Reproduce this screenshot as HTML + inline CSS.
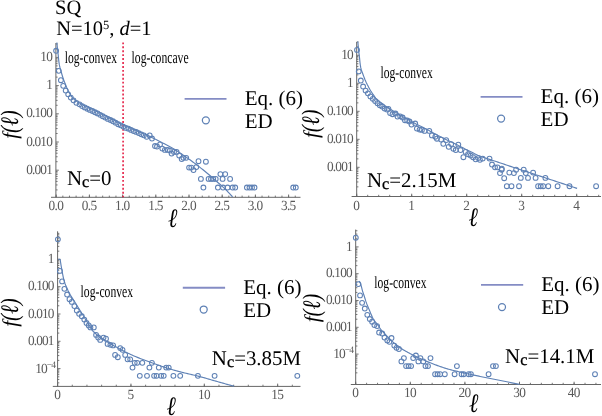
<!DOCTYPE html>
<html lang="en"><head><meta charset="utf-8"><title>f(ℓ) distributions</title>
<style>html,body{margin:0;padding:0;background:#fff;}svg{display:block;will-change:transform;}text{font-family:'Liberation Serif','Times New Roman',serif;text-rendering:geometricPrecision;}</style>
</head><body>
<svg width="602" height="416" viewBox="0 0 602 416">
<rect x="0" y="0" width="602" height="416" fill="#ffffff"/>
<g stroke="#666666" stroke-width="1.0" fill="none">
<line x1="55.9" y1="43" x2="55.9" y2="197.3"/>
<line x1="51" y1="197.3" x2="300.5" y2="197.3"/>
</g>
<g stroke="#666666" stroke-width="0.9">
<line x1="56.2" y1="197.3" x2="56.2" y2="194.5"/>
<line x1="89.4" y1="197.3" x2="89.4" y2="194.5"/>
<line x1="122.6" y1="197.3" x2="122.6" y2="194.5"/>
<line x1="155.8" y1="197.3" x2="155.8" y2="194.5"/>
<line x1="189" y1="197.3" x2="189" y2="194.5"/>
<line x1="222.2" y1="197.3" x2="222.2" y2="194.5"/>
<line x1="255.4" y1="197.3" x2="255.4" y2="194.5"/>
<line x1="288.6" y1="197.3" x2="288.6" y2="194.5"/>
<line x1="56.2" y1="197.3" x2="56.2" y2="195.6"/>
<line x1="62.84" y1="197.3" x2="62.84" y2="195.6"/>
<line x1="69.48" y1="197.3" x2="69.48" y2="195.6"/>
<line x1="76.12" y1="197.3" x2="76.12" y2="195.6"/>
<line x1="82.76" y1="197.3" x2="82.76" y2="195.6"/>
<line x1="89.4" y1="197.3" x2="89.4" y2="195.6"/>
<line x1="96.04" y1="197.3" x2="96.04" y2="195.6"/>
<line x1="102.68" y1="197.3" x2="102.68" y2="195.6"/>
<line x1="109.32" y1="197.3" x2="109.32" y2="195.6"/>
<line x1="115.96" y1="197.3" x2="115.96" y2="195.6"/>
<line x1="122.6" y1="197.3" x2="122.6" y2="195.6"/>
<line x1="129.24" y1="197.3" x2="129.24" y2="195.6"/>
<line x1="135.88" y1="197.3" x2="135.88" y2="195.6"/>
<line x1="142.52" y1="197.3" x2="142.52" y2="195.6"/>
<line x1="149.16" y1="197.3" x2="149.16" y2="195.6"/>
<line x1="155.8" y1="197.3" x2="155.8" y2="195.6"/>
<line x1="162.44" y1="197.3" x2="162.44" y2="195.6"/>
<line x1="169.08" y1="197.3" x2="169.08" y2="195.6"/>
<line x1="175.72" y1="197.3" x2="175.72" y2="195.6"/>
<line x1="182.36" y1="197.3" x2="182.36" y2="195.6"/>
<line x1="189" y1="197.3" x2="189" y2="195.6"/>
<line x1="195.64" y1="197.3" x2="195.64" y2="195.6"/>
<line x1="202.28" y1="197.3" x2="202.28" y2="195.6"/>
<line x1="208.92" y1="197.3" x2="208.92" y2="195.6"/>
<line x1="215.56" y1="197.3" x2="215.56" y2="195.6"/>
<line x1="222.2" y1="197.3" x2="222.2" y2="195.6"/>
<line x1="228.84" y1="197.3" x2="228.84" y2="195.6"/>
<line x1="235.48" y1="197.3" x2="235.48" y2="195.6"/>
<line x1="242.12" y1="197.3" x2="242.12" y2="195.6"/>
<line x1="248.76" y1="197.3" x2="248.76" y2="195.6"/>
<line x1="255.4" y1="197.3" x2="255.4" y2="195.6"/>
<line x1="262.04" y1="197.3" x2="262.04" y2="195.6"/>
<line x1="268.68" y1="197.3" x2="268.68" y2="195.6"/>
<line x1="275.32" y1="197.3" x2="275.32" y2="195.6"/>
<line x1="281.96" y1="197.3" x2="281.96" y2="195.6"/>
<line x1="288.6" y1="197.3" x2="288.6" y2="195.6"/>
<line x1="295.24" y1="197.3" x2="295.24" y2="195.6"/>
<line x1="55.9" y1="57.4" x2="58.8" y2="57.4"/>
<line x1="55.9" y1="85.6" x2="58.8" y2="85.6"/>
<line x1="55.9" y1="113.8" x2="58.8" y2="113.8"/>
<line x1="55.9" y1="142" x2="58.8" y2="142"/>
<line x1="55.9" y1="170.2" x2="58.8" y2="170.2"/>
<line x1="55.9" y1="189.91" x2="57.6" y2="189.91"/>
<line x1="55.9" y1="184.95" x2="57.6" y2="184.95"/>
<line x1="55.9" y1="181.42" x2="57.6" y2="181.42"/>
<line x1="55.9" y1="178.69" x2="57.6" y2="178.69"/>
<line x1="55.9" y1="176.46" x2="57.6" y2="176.46"/>
<line x1="55.9" y1="174.57" x2="57.6" y2="174.57"/>
<line x1="55.9" y1="172.93" x2="57.6" y2="172.93"/>
<line x1="55.9" y1="171.49" x2="57.6" y2="171.49"/>
<line x1="55.9" y1="161.71" x2="57.6" y2="161.71"/>
<line x1="55.9" y1="156.75" x2="57.6" y2="156.75"/>
<line x1="55.9" y1="153.22" x2="57.6" y2="153.22"/>
<line x1="55.9" y1="150.49" x2="57.6" y2="150.49"/>
<line x1="55.9" y1="148.26" x2="57.6" y2="148.26"/>
<line x1="55.9" y1="146.37" x2="57.6" y2="146.37"/>
<line x1="55.9" y1="144.73" x2="57.6" y2="144.73"/>
<line x1="55.9" y1="143.29" x2="57.6" y2="143.29"/>
<line x1="55.9" y1="133.51" x2="57.6" y2="133.51"/>
<line x1="55.9" y1="128.55" x2="57.6" y2="128.55"/>
<line x1="55.9" y1="125.02" x2="57.6" y2="125.02"/>
<line x1="55.9" y1="122.29" x2="57.6" y2="122.29"/>
<line x1="55.9" y1="120.06" x2="57.6" y2="120.06"/>
<line x1="55.9" y1="118.17" x2="57.6" y2="118.17"/>
<line x1="55.9" y1="116.53" x2="57.6" y2="116.53"/>
<line x1="55.9" y1="115.09" x2="57.6" y2="115.09"/>
<line x1="55.9" y1="105.31" x2="57.6" y2="105.31"/>
<line x1="55.9" y1="100.35" x2="57.6" y2="100.35"/>
<line x1="55.9" y1="96.82" x2="57.6" y2="96.82"/>
<line x1="55.9" y1="94.09" x2="57.6" y2="94.09"/>
<line x1="55.9" y1="91.86" x2="57.6" y2="91.86"/>
<line x1="55.9" y1="89.97" x2="57.6" y2="89.97"/>
<line x1="55.9" y1="88.33" x2="57.6" y2="88.33"/>
<line x1="55.9" y1="86.89" x2="57.6" y2="86.89"/>
<line x1="55.9" y1="77.11" x2="57.6" y2="77.11"/>
<line x1="55.9" y1="72.15" x2="57.6" y2="72.15"/>
<line x1="55.9" y1="68.62" x2="57.6" y2="68.62"/>
<line x1="55.9" y1="65.89" x2="57.6" y2="65.89"/>
<line x1="55.9" y1="63.66" x2="57.6" y2="63.66"/>
<line x1="55.9" y1="61.77" x2="57.6" y2="61.77"/>
<line x1="55.9" y1="60.13" x2="57.6" y2="60.13"/>
<line x1="55.9" y1="58.69" x2="57.6" y2="58.69"/>
<line x1="55.9" y1="48.91" x2="57.6" y2="48.91"/>
<line x1="55.9" y1="43.95" x2="57.6" y2="43.95"/>
</g>
<text transform="translate(55.87 210.4) scale(0.95 1)" font-size="14.0" letter-spacing="-0.7" text-anchor="middle" fill="#5a5a5a">0.0</text>
<text transform="translate(89.07 210.4) scale(0.95 1)" font-size="14.0" letter-spacing="-0.7" text-anchor="middle" fill="#5a5a5a">0.5</text>
<text transform="translate(122.27 210.4) scale(0.95 1)" font-size="14.0" letter-spacing="-0.7" text-anchor="middle" fill="#5a5a5a">1.0</text>
<text transform="translate(155.47 210.4) scale(0.95 1)" font-size="14.0" letter-spacing="-0.7" text-anchor="middle" fill="#5a5a5a">1.5</text>
<text transform="translate(188.67 210.4) scale(0.95 1)" font-size="14.0" letter-spacing="-0.7" text-anchor="middle" fill="#5a5a5a">2.0</text>
<text transform="translate(221.87 210.4) scale(0.95 1)" font-size="14.0" letter-spacing="-0.7" text-anchor="middle" fill="#5a5a5a">2.5</text>
<text transform="translate(255.07 210.4) scale(0.95 1)" font-size="14.0" letter-spacing="-0.7" text-anchor="middle" fill="#5a5a5a">3.0</text>
<text transform="translate(288.27 210.4) scale(0.95 1)" font-size="14.0" letter-spacing="-0.7" text-anchor="middle" fill="#5a5a5a">3.5</text>
<text transform="translate(51.95 61) scale(0.95 1)" font-size="14.0" letter-spacing="-0.9" text-anchor="end" fill="#5a5a5a">10</text>
<text transform="translate(51.95 89.2) scale(0.95 1)" font-size="14.0" letter-spacing="-0.9" text-anchor="end" fill="#5a5a5a">1</text>
<text transform="translate(51.95 117.4) scale(0.95 1)" font-size="14.0" letter-spacing="-0.9" text-anchor="end" fill="#5a5a5a">0.100</text>
<text transform="translate(51.95 145.6) scale(0.95 1)" font-size="14.0" letter-spacing="-0.9" text-anchor="end" fill="#5a5a5a">0.010</text>
<text transform="translate(51.95 173.8) scale(0.95 1)" font-size="14.0" letter-spacing="-0.9" text-anchor="end" fill="#5a5a5a">0.001</text>
<line x1="123.1" y1="42.4" x2="123.1" y2="197.3" stroke="#e41f45" stroke-width="1.6" stroke-dasharray="1.9 2.03"/>
<g fill="none" stroke="#5E81B5" stroke-width="1.05">
<circle cx="56.1" cy="50.8" r="2.4"/>
<circle cx="58.7" cy="70.8" r="2.4"/>
<circle cx="60.9" cy="80.2" r="2.4"/>
<circle cx="63.2" cy="85.8" r="2.4"/>
<circle cx="65.7" cy="90.6" r="2.4"/>
<circle cx="68.2" cy="94.3" r="2.4"/>
<circle cx="70.8" cy="97.6" r="2.4"/>
<circle cx="73.5" cy="100.3" r="2.4"/>
<circle cx="76.4" cy="102.8" r="2.4"/>
<circle cx="79.57" cy="104.33" r="2.4"/>
<circle cx="82.14" cy="106.06" r="2.4"/>
<circle cx="84.71" cy="107.39" r="2.4"/>
<circle cx="87.29" cy="108.7" r="2.4"/>
<circle cx="89.86" cy="109.92" r="2.4"/>
<circle cx="92.44" cy="110.95" r="2.4"/>
<circle cx="95.01" cy="112.2" r="2.4"/>
<circle cx="97.58" cy="113.41" r="2.4"/>
<circle cx="100.16" cy="114.83" r="2.4"/>
<circle cx="102.73" cy="116.22" r="2.4"/>
<circle cx="105.31" cy="117.56" r="2.4"/>
<circle cx="107.88" cy="118.88" r="2.4"/>
<circle cx="110.45" cy="120.04" r="2.4"/>
<circle cx="113.03" cy="121.27" r="2.4"/>
<circle cx="115.6" cy="122.69" r="2.4"/>
<circle cx="118.18" cy="124.21" r="2.4"/>
<circle cx="120.75" cy="125.3" r="2.4"/>
<circle cx="123.32" cy="126.6" r="2.4"/>
<circle cx="125.9" cy="127.89" r="2.4"/>
<circle cx="128.47" cy="128.7" r="2.4"/>
<circle cx="131.05" cy="129.92" r="2.4"/>
<circle cx="133.62" cy="131.07" r="2.4"/>
<circle cx="136.19" cy="131.91" r="2.4"/>
<circle cx="138.77" cy="133.11" r="2.4"/>
<circle cx="141.34" cy="134.36" r="2.4"/>
<circle cx="143.92" cy="135.3" r="2.4"/>
<circle cx="146.7" cy="136.8" r="2.4"/>
<circle cx="149.7" cy="135.4" r="2.4"/>
<circle cx="152" cy="138.5" r="2.4"/>
<circle cx="155" cy="146" r="2.4"/>
<circle cx="157" cy="146.5" r="2.4"/>
<circle cx="160" cy="144.4" r="2.4"/>
<circle cx="162.3" cy="148.6" r="2.4"/>
<circle cx="164.9" cy="149.9" r="2.4"/>
<circle cx="167.7" cy="149.9" r="2.4"/>
<circle cx="169.9" cy="150.6" r="2.4"/>
<circle cx="171.6" cy="153.6" r="2.4"/>
<circle cx="174" cy="151.9" r="2.4"/>
<circle cx="176.6" cy="151.9" r="2.4"/>
<circle cx="179.2" cy="155.6" r="2.4"/>
<circle cx="181.7" cy="159" r="2.4"/>
<circle cx="183.4" cy="157.8" r="2.4"/>
<circle cx="186.2" cy="157.8" r="2.4"/>
<circle cx="189.1" cy="167.6" r="2.4"/>
<circle cx="191.3" cy="167.6" r="2.4"/>
<circle cx="193.5" cy="170.1" r="2.4"/>
<circle cx="196.3" cy="167.1" r="2.4"/>
<circle cx="198.5" cy="161.2" r="2.4"/>
<circle cx="200.9" cy="178.9" r="2.4"/>
<circle cx="203.4" cy="187.5" r="2.4"/>
<circle cx="205.9" cy="161.7" r="2.4"/>
<circle cx="208.6" cy="178.9" r="2.4"/>
<circle cx="211" cy="178.9" r="2.4"/>
<circle cx="213.2" cy="178.9" r="2.4"/>
<circle cx="215.7" cy="178.9" r="2.4"/>
<circle cx="217.9" cy="187.5" r="2.4"/>
<circle cx="220.4" cy="174.1" r="2.4"/>
<circle cx="222.6" cy="178.9" r="2.4"/>
<circle cx="225.2" cy="174.1" r="2.4"/>
<circle cx="223" cy="187.5" r="2.4"/>
<circle cx="227.6" cy="187.5" r="2.4"/>
<circle cx="230.1" cy="178.9" r="2.4"/>
<circle cx="232.6" cy="187.5" r="2.4"/>
<circle cx="235.2" cy="187.5" r="2.4"/>
<circle cx="246.9" cy="187.5" r="2.4"/>
<circle cx="249.5" cy="187.5" r="2.4"/>
<circle cx="252" cy="187.5" r="2.4"/>
<circle cx="254.5" cy="187.5" r="2.4"/>
<circle cx="293.2" cy="187.5" r="2.4"/>
<circle cx="295.8" cy="187.5" r="2.4"/>
</g>
<path d="M56.9,42.5 L57.03,44.05 L57.16,45.61 L57.31,47.16 L57.47,48.71 L57.63,50.26 L57.81,51.81 L58,53.36 L58.19,54.9 L58.36,56.46 L58.51,58.01 L58.66,59.57 L58.82,61.12 L59.01,62.66 L59.23,64.2 L59.53,65.72 L59.9,67.24 L60.32,68.74 L60.75,70.25 L61.17,71.75 L61.59,73.25 L62.02,74.75 L62.47,76.25 L62.94,77.73 L63.44,79.21 L63.98,80.67 L64.54,82.13 L65.12,83.57 L65.71,85.02 L66.3,86.46 L66.91,87.9 L67.55,89.32 L68.21,90.73 L68.91,92.13 L69.63,93.55 L70.39,94.93 L71.23,96.22 L72.18,97.38 L73.26,98.49 L74.44,99.53 L75.7,100.52 L76.98,101.45 L78.27,102.31 L79.6,103.1 L80.97,103.84 L82.38,104.54 L83.8,105.21 L85.2,105.89 L86.62,106.54 L88.05,107.16 L89.48,107.78 L90.91,108.41 L92.33,109.05 L93.74,109.71 L95.13,110.41 L96.52,111.12 L97.9,111.85 L99.28,112.58 L100.66,113.31 L102.04,114.02 L103.43,114.72 L104.83,115.42 L106.22,116.12 L107.62,116.81 L109.02,117.51 L110.41,118.21 L111.8,118.92 L113.18,119.63 L114.57,120.35 L115.95,121.07 L117.34,121.79 L118.72,122.5 L120.11,123.21 L121.51,123.9 L122.91,124.57 L124.33,125.23 L125.75,125.87 L127.17,126.49 L128.61,127.11 L130.04,127.72 L131.48,128.32 L132.92,128.93 L134.36,129.53 L135.79,130.14 L137.22,130.77 L138.64,131.4 L140.07,132.04 L141.49,132.68 L142.91,133.32 L144.33,133.97 L145.74,134.63 L147.15,135.29 L148.57,135.95 L149.97,136.62 L151.38,137.29 L152.78,137.97 L154.18,138.66 L155.58,139.35 L156.97,140.05 L158.36,140.76 L159.75,141.47 L161.14,142.18 L162.53,142.89 L163.91,143.6 L165.3,144.31 L166.7,145.01 L168.09,145.71 L169.47,146.44 L170.82,147.2 L172.17,147.98 L173.5,148.78 L174.83,149.59 L176.15,150.42 L177.47,151.27 L178.78,152.12 L180.08,152.98 L181.38,153.85 L182.67,154.73 L183.96,155.61 L185.24,156.5 L186.52,157.39 L187.79,158.28 L189.06,159.19 L190.33,160.09 L191.59,161.01 L192.84,161.94 L194.1,162.87 L195.34,163.81 L196.59,164.75 L197.82,165.7 L199.06,166.66 L200.28,167.62 L201.51,168.59 L202.73,169.56 L203.94,170.53 L205.15,171.52 L206.35,172.51 L207.54,173.51 L208.73,174.52 L209.91,175.54 L211.09,176.56 L212.26,177.59 L213.44,178.62 L214.61,179.65 L215.78,180.67 L216.96,181.7 L218.14,182.72 L219.31,183.75 L220.48,184.78 L221.64,185.82 L222.79,186.87 L223.93,187.94 L225.05,189.02 L226.16,190.11 L227.26,191.21 L228.35,192.33 L229.43,193.46 L230.49,194.59 L231.55,195.74 L232.6,196.9" fill="none" stroke="#5E81B5" stroke-width="1.15" stroke-linejoin="round" stroke-linecap="butt"/>
<text x="55" y="14" font-size="20.5" text-anchor="start" fill="#000" >SQ</text>
<text x="56.2" y="35.3" font-size="20.5" fill="#000">N=10<tspan font-size="12.5" dy="-6.2">5</tspan><tspan dy="6.2">, </tspan><tspan font-style="italic">d</tspan>=1</text>
<text x="64.8" y="62.6" font-size="17" text-anchor="start" fill="#000" textLength="52.2" lengthAdjust="spacingAndGlyphs" >log-convex</text>
<text x="131.6" y="62.6" font-size="17" text-anchor="start" fill="#000" textLength="57" lengthAdjust="spacingAndGlyphs" >log-concave</text>
<text x="66.9" y="185" font-size="20.9" fill="#000">N<tspan font-size="16.3" dy="2.4" stroke="#000" stroke-width="0.3">c</tspan><tspan dy="-2.4">=0</tspan></text>
<line x1="184.6" y1="98.95" x2="226.5" y2="98.95" stroke="#848cc4" stroke-width="1.8"/>
<circle cx="205.85" cy="120.3" r="3.5" fill="none" stroke="#5E81B5" stroke-width="1.25"/>
<text x="244.8" y="104.8" font-size="21" text-anchor="start" fill="#000" >Eq. (6)</text>
<text x="244.8" y="128.1" font-size="21" text-anchor="start" fill="#000" >ED</text>
<g transform="translate(18 124.5) rotate(-90)" font-size="21" font-style="italic" fill="#000">
<text x="-14.3" y="-1.2">f</text>
<text transform="translate(-8.46 0) scale(1 1.2)">(ℓ)</text>
</g>
<text transform="translate(172.6 227.2) scale(0.85 1)" font-size="26.5" font-style="italic" text-anchor="middle" fill="#000">ℓ</text>
<g stroke="#666666" stroke-width="1.0" fill="none">
<line x1="356.7" y1="42" x2="356.7" y2="196.5"/>
<line x1="351.6" y1="196.5" x2="601" y2="196.5"/>
</g>
<g stroke="#666666" stroke-width="0.9">
<line x1="356.7" y1="196.5" x2="356.7" y2="193.7"/>
<line x1="411.7" y1="196.5" x2="411.7" y2="193.7"/>
<line x1="466.7" y1="196.5" x2="466.7" y2="193.7"/>
<line x1="521.7" y1="196.5" x2="521.7" y2="193.7"/>
<line x1="576.7" y1="196.5" x2="576.7" y2="193.7"/>
<line x1="356.7" y1="196.5" x2="356.7" y2="194.8"/>
<line x1="367.7" y1="196.5" x2="367.7" y2="194.8"/>
<line x1="378.7" y1="196.5" x2="378.7" y2="194.8"/>
<line x1="389.7" y1="196.5" x2="389.7" y2="194.8"/>
<line x1="400.7" y1="196.5" x2="400.7" y2="194.8"/>
<line x1="411.7" y1="196.5" x2="411.7" y2="194.8"/>
<line x1="422.7" y1="196.5" x2="422.7" y2="194.8"/>
<line x1="433.7" y1="196.5" x2="433.7" y2="194.8"/>
<line x1="444.7" y1="196.5" x2="444.7" y2="194.8"/>
<line x1="455.7" y1="196.5" x2="455.7" y2="194.8"/>
<line x1="466.7" y1="196.5" x2="466.7" y2="194.8"/>
<line x1="477.7" y1="196.5" x2="477.7" y2="194.8"/>
<line x1="488.7" y1="196.5" x2="488.7" y2="194.8"/>
<line x1="499.7" y1="196.5" x2="499.7" y2="194.8"/>
<line x1="510.7" y1="196.5" x2="510.7" y2="194.8"/>
<line x1="521.7" y1="196.5" x2="521.7" y2="194.8"/>
<line x1="532.7" y1="196.5" x2="532.7" y2="194.8"/>
<line x1="543.7" y1="196.5" x2="543.7" y2="194.8"/>
<line x1="554.7" y1="196.5" x2="554.7" y2="194.8"/>
<line x1="565.7" y1="196.5" x2="565.7" y2="194.8"/>
<line x1="576.7" y1="196.5" x2="576.7" y2="194.8"/>
<line x1="587.7" y1="196.5" x2="587.7" y2="194.8"/>
<line x1="598.7" y1="196.5" x2="598.7" y2="194.8"/>
<line x1="356.7" y1="55.3" x2="359.6" y2="55.3"/>
<line x1="356.7" y1="83.3" x2="359.6" y2="83.3"/>
<line x1="356.7" y1="111.3" x2="359.6" y2="111.3"/>
<line x1="356.7" y1="139.3" x2="359.6" y2="139.3"/>
<line x1="356.7" y1="167.3" x2="359.6" y2="167.3"/>
<line x1="356.7" y1="186.87" x2="358.4" y2="186.87"/>
<line x1="356.7" y1="181.94" x2="358.4" y2="181.94"/>
<line x1="356.7" y1="178.44" x2="358.4" y2="178.44"/>
<line x1="356.7" y1="175.73" x2="358.4" y2="175.73"/>
<line x1="356.7" y1="173.51" x2="358.4" y2="173.51"/>
<line x1="356.7" y1="171.64" x2="358.4" y2="171.64"/>
<line x1="356.7" y1="170.01" x2="358.4" y2="170.01"/>
<line x1="356.7" y1="168.58" x2="358.4" y2="168.58"/>
<line x1="356.7" y1="158.87" x2="358.4" y2="158.87"/>
<line x1="356.7" y1="153.94" x2="358.4" y2="153.94"/>
<line x1="356.7" y1="150.44" x2="358.4" y2="150.44"/>
<line x1="356.7" y1="147.73" x2="358.4" y2="147.73"/>
<line x1="356.7" y1="145.51" x2="358.4" y2="145.51"/>
<line x1="356.7" y1="143.64" x2="358.4" y2="143.64"/>
<line x1="356.7" y1="142.01" x2="358.4" y2="142.01"/>
<line x1="356.7" y1="140.58" x2="358.4" y2="140.58"/>
<line x1="356.7" y1="130.87" x2="358.4" y2="130.87"/>
<line x1="356.7" y1="125.94" x2="358.4" y2="125.94"/>
<line x1="356.7" y1="122.44" x2="358.4" y2="122.44"/>
<line x1="356.7" y1="119.73" x2="358.4" y2="119.73"/>
<line x1="356.7" y1="117.51" x2="358.4" y2="117.51"/>
<line x1="356.7" y1="115.64" x2="358.4" y2="115.64"/>
<line x1="356.7" y1="114.01" x2="358.4" y2="114.01"/>
<line x1="356.7" y1="112.58" x2="358.4" y2="112.58"/>
<line x1="356.7" y1="102.87" x2="358.4" y2="102.87"/>
<line x1="356.7" y1="97.94" x2="358.4" y2="97.94"/>
<line x1="356.7" y1="94.44" x2="358.4" y2="94.44"/>
<line x1="356.7" y1="91.73" x2="358.4" y2="91.73"/>
<line x1="356.7" y1="89.51" x2="358.4" y2="89.51"/>
<line x1="356.7" y1="87.64" x2="358.4" y2="87.64"/>
<line x1="356.7" y1="86.01" x2="358.4" y2="86.01"/>
<line x1="356.7" y1="84.58" x2="358.4" y2="84.58"/>
<line x1="356.7" y1="74.87" x2="358.4" y2="74.87"/>
<line x1="356.7" y1="69.94" x2="358.4" y2="69.94"/>
<line x1="356.7" y1="66.44" x2="358.4" y2="66.44"/>
<line x1="356.7" y1="63.73" x2="358.4" y2="63.73"/>
<line x1="356.7" y1="61.51" x2="358.4" y2="61.51"/>
<line x1="356.7" y1="59.64" x2="358.4" y2="59.64"/>
<line x1="356.7" y1="58.01" x2="358.4" y2="58.01"/>
<line x1="356.7" y1="56.58" x2="358.4" y2="56.58"/>
<line x1="356.7" y1="46.87" x2="358.4" y2="46.87"/>
<line x1="356.7" y1="41.94" x2="358.4" y2="41.94"/>
</g>
<text transform="translate(356.37 209.6) scale(0.95 1)" font-size="14.0" letter-spacing="-0.7" text-anchor="middle" fill="#5a5a5a">0</text>
<text transform="translate(411.37 209.6) scale(0.95 1)" font-size="14.0" letter-spacing="-0.7" text-anchor="middle" fill="#5a5a5a">1</text>
<text transform="translate(466.37 209.6) scale(0.95 1)" font-size="14.0" letter-spacing="-0.7" text-anchor="middle" fill="#5a5a5a">2</text>
<text transform="translate(521.37 209.6) scale(0.95 1)" font-size="14.0" letter-spacing="-0.7" text-anchor="middle" fill="#5a5a5a">3</text>
<text transform="translate(576.37 209.6) scale(0.95 1)" font-size="14.0" letter-spacing="-0.7" text-anchor="middle" fill="#5a5a5a">4</text>
<text transform="translate(352.74 58.9) scale(0.95 1)" font-size="14.0" letter-spacing="-0.9" text-anchor="end" fill="#5a5a5a">10</text>
<text transform="translate(352.74 86.9) scale(0.95 1)" font-size="14.0" letter-spacing="-0.9" text-anchor="end" fill="#5a5a5a">1</text>
<text transform="translate(352.74 114.9) scale(0.95 1)" font-size="14.0" letter-spacing="-0.9" text-anchor="end" fill="#5a5a5a">0.100</text>
<text transform="translate(352.74 142.9) scale(0.95 1)" font-size="14.0" letter-spacing="-0.9" text-anchor="end" fill="#5a5a5a">0.010</text>
<text transform="translate(352.74 170.9) scale(0.95 1)" font-size="14.0" letter-spacing="-0.9" text-anchor="end" fill="#5a5a5a">0.001</text>
<g fill="none" stroke="#5E81B5" stroke-width="1.05">
<circle cx="357" cy="49.9" r="2.4"/>
<circle cx="358.75" cy="71.4" r="2.4"/>
<circle cx="360.8" cy="80.5" r="2.4"/>
<circle cx="363.1" cy="86.5" r="2.4"/>
<circle cx="365.6" cy="90.6" r="2.4"/>
<circle cx="367.9" cy="93.3" r="2.4"/>
<circle cx="370.4" cy="96.4" r="2.4"/>
<circle cx="372.8" cy="98.8" r="2.4"/>
<circle cx="375.1" cy="101.1" r="2.4"/>
<circle cx="377.5" cy="103.2" r="2.4"/>
<circle cx="379.8" cy="105.2" r="2.4"/>
<circle cx="382.2" cy="106.5" r="2.4"/>
<circle cx="384.6" cy="108.5" r="2.4"/>
<circle cx="387" cy="109.6" r="2.4"/>
<circle cx="388.4" cy="108.8" r="2.4"/>
<circle cx="390.1" cy="113.1" r="2.4"/>
<circle cx="392.5" cy="114.2" r="2.4"/>
<circle cx="395.5" cy="113.5" r="2.4"/>
<circle cx="397.5" cy="116.5" r="2.4"/>
<circle cx="400.2" cy="116.3" r="2.4"/>
<circle cx="402.6" cy="117.5" r="2.4"/>
<circle cx="404.9" cy="120.2" r="2.4"/>
<circle cx="407.2" cy="120.5" r="2.4"/>
<circle cx="409.5" cy="121.5" r="2.4"/>
<circle cx="411.5" cy="124.5" r="2.4"/>
<circle cx="415.2" cy="123.5" r="2.4"/>
<circle cx="416.9" cy="128.6" r="2.4"/>
<circle cx="419.6" cy="129.6" r="2.4"/>
<circle cx="421.9" cy="129.9" r="2.4"/>
<circle cx="424.6" cy="130.9" r="2.4"/>
<circle cx="429.3" cy="130.9" r="2.4"/>
<circle cx="431.9" cy="135.4" r="2.4"/>
<circle cx="435.3" cy="136.7" r="2.4"/>
<circle cx="436.9" cy="138.7" r="2.4"/>
<circle cx="441.1" cy="139.6" r="2.4"/>
<circle cx="443.3" cy="143.8" r="2.4"/>
<circle cx="446.2" cy="140.1" r="2.4"/>
<circle cx="448.7" cy="146.8" r="2.4"/>
<circle cx="451.2" cy="144.1" r="2.4"/>
<circle cx="453.4" cy="148.8" r="2.4"/>
<circle cx="455.8" cy="150" r="2.4"/>
<circle cx="458.3" cy="144.6" r="2.4"/>
<circle cx="460.5" cy="150" r="2.4"/>
<circle cx="463.4" cy="157.2" r="2.4"/>
<circle cx="465.6" cy="151.9" r="2.4"/>
<circle cx="468.1" cy="154.2" r="2.4"/>
<circle cx="470.6" cy="155.6" r="2.4"/>
<circle cx="473.1" cy="157.2" r="2.4"/>
<circle cx="475.7" cy="159.3" r="2.4"/>
<circle cx="478.2" cy="158.1" r="2.4"/>
<circle cx="479.9" cy="159.8" r="2.4"/>
<circle cx="482.7" cy="158.6" r="2.4"/>
<circle cx="489.5" cy="158.6" r="2.4"/>
<circle cx="492" cy="164.5" r="2.4"/>
<circle cx="495" cy="167.3" r="2.4"/>
<circle cx="497.5" cy="167.3" r="2.4"/>
<circle cx="501.8" cy="168.7" r="2.4"/>
<circle cx="501.7" cy="169.7" r="2.4"/>
<circle cx="500" cy="173.1" r="2.4"/>
<circle cx="504.2" cy="178.2" r="2.4"/>
<circle cx="506.8" cy="186.2" r="2.4"/>
<circle cx="509.3" cy="172.6" r="2.4"/>
<circle cx="511.5" cy="186.2" r="2.4"/>
<circle cx="513.9" cy="173.1" r="2.4"/>
<circle cx="516.1" cy="169.7" r="2.4"/>
<circle cx="519" cy="186.2" r="2.4"/>
<circle cx="520.8" cy="177.9" r="2.4"/>
<circle cx="523.7" cy="169.7" r="2.4"/>
<circle cx="525.8" cy="173.1" r="2.4"/>
<circle cx="528" cy="177.9" r="2.4"/>
<circle cx="533.1" cy="172.6" r="2.4"/>
<circle cx="535.6" cy="177.9" r="2.4"/>
<circle cx="538.1" cy="186.2" r="2.4"/>
<circle cx="540.7" cy="186.2" r="2.4"/>
<circle cx="543.2" cy="186.2" r="2.4"/>
<circle cx="545.4" cy="177.9" r="2.4"/>
<circle cx="548.3" cy="186.2" r="2.4"/>
<circle cx="557.6" cy="186.2" r="2.4"/>
<circle cx="569.5" cy="186.2" r="2.4"/>
<circle cx="596.1" cy="186.2" r="2.4"/>
</g>
<path d="M357.85,41.5 L357.98,43.27 L358.12,45.04 L358.28,46.81 L358.45,48.58 L358.63,50.35 L358.82,52.11 L359.04,53.87 L359.26,55.64 L359.47,57.4 L359.66,59.17 L359.84,60.95 L360.02,62.72 L360.23,64.48 L360.49,66.23 L360.82,67.95 L361.29,69.66 L361.87,71.35 L362.49,73.03 L363.1,74.7 L363.71,76.37 L364.35,78.03 L365.01,79.68 L365.71,81.31 L366.45,82.92 L367.23,84.52 L368.05,86.1 L368.9,87.66 L369.77,89.2 L370.68,90.72 L371.63,92.23 L372.6,93.72 L373.59,95.19 L374.61,96.66 L375.71,98.04 L376.95,99.29 L378.27,100.48 L379.65,101.61 L381.06,102.72 L382.47,103.81 L383.89,104.87 L385.33,105.91 L386.8,106.92 L388.28,107.9 L389.78,108.85 L391.3,109.76 L392.84,110.64 L394.38,111.53 L395.91,112.43 L397.43,113.36 L398.94,114.3 L400.44,115.24 L401.95,116.18 L403.47,117.09 L405.01,117.98 L406.55,118.85 L408.11,119.72 L409.67,120.57 L411.23,121.41 L412.8,122.24 L414.37,123.07 L415.94,123.89 L417.53,124.7 L419.12,125.49 L420.71,126.28 L422.3,127.07 L423.88,127.87 L425.47,128.68 L427.04,129.5 L428.6,130.34 L430.16,131.19 L431.72,132.04 L433.28,132.9 L434.84,133.75 L436.4,134.6 L437.96,135.44 L439.54,136.26 L441.12,137.07 L442.71,137.86 L444.3,138.64 L445.9,139.41 L447.5,140.18 L449.11,140.94 L450.71,141.71 L452.31,142.48 L453.91,143.26 L455.5,144.05 L457.08,144.85 L458.66,145.65 L460.24,146.47 L461.82,147.28 L463.4,148.09 L464.99,148.9 L466.57,149.69 L468.16,150.48 L469.76,151.27 L471.35,152.07 L472.94,152.86 L474.54,153.65 L476.14,154.42 L477.75,155.16 L479.38,155.86 L481.02,156.52 L482.68,157.14 L484.35,157.73 L486.03,158.29 L487.73,158.83 L489.43,159.37 L491.12,159.9 L492.82,160.45 L494.5,161 L496.19,161.57 L497.87,162.13 L499.56,162.7 L501.24,163.26 L502.92,163.83 L504.61,164.4 L506.29,164.96 L507.97,165.52 L509.66,166.09 L511.34,166.65 L513.03,167.21 L514.71,167.76 L516.4,168.32 L518.09,168.88 L519.77,169.43 L521.46,169.99 L523.15,170.54 L524.84,171.1 L526.52,171.65 L528.21,172.21 L529.9,172.77 L531.58,173.32 L533.27,173.88 L534.96,174.43 L536.64,174.99 L538.33,175.55 L540.02,176.1 L541.7,176.66 L543.39,177.22 L545.07,177.77 L546.76,178.33 L548.45,178.89 L550.13,179.44 L551.82,180 L553.51,180.56 L555.19,181.12 L556.88,181.68 L558.56,182.24 L560.25,182.8 L561.93,183.36 L563.62,183.92 L565.3,184.47 L566.99,185.03 L568.67,185.6 L570.36,186.16 L572.05,186.72 L573.73,187.28 L575.42,187.84 L577.1,188.4" fill="none" stroke="#5E81B5" stroke-width="1.15" stroke-linejoin="round" stroke-linecap="butt"/>
<text x="380.5" y="77.9" font-size="17" text-anchor="start" fill="#000" textLength="52.3" lengthAdjust="spacingAndGlyphs" >log-convex</text>
<text x="367" y="187" font-size="20.9" fill="#000">N<tspan font-size="16.3" dy="2.4" stroke="#000" stroke-width="0.3">c</tspan><tspan dy="-2.4">=2.15M</tspan></text>
<line x1="480.6" y1="96.95" x2="522.5" y2="96.95" stroke="#848cc4" stroke-width="1.8"/>
<circle cx="501.1" cy="118.6" r="3.5" fill="none" stroke="#5E81B5" stroke-width="1.25"/>
<text x="540.6" y="102.8" font-size="21" text-anchor="start" fill="#000" >Eq. (6)</text>
<text x="540.6" y="126.1" font-size="21" text-anchor="start" fill="#000" >ED</text>
<g transform="translate(318.8 123.8) rotate(-90)" font-size="21" font-style="italic" fill="#000">
<text x="-14.3" y="-1.2">f</text>
<text transform="translate(-8.46 0) scale(1 1.2)">(ℓ)</text>
</g>
<text transform="translate(473.3 225.7) scale(0.85 1)" font-size="26.5" font-style="italic" text-anchor="middle" fill="#000">ℓ</text>
<g stroke="#666666" stroke-width="1.0" fill="none">
<line x1="57.6" y1="231.3" x2="57.6" y2="386.4"/>
<line x1="52.8" y1="386.4" x2="300.5" y2="386.4"/>
</g>
<g stroke="#666666" stroke-width="0.9">
<line x1="57.6" y1="386.4" x2="57.6" y2="383.6"/>
<line x1="130.95" y1="386.4" x2="130.95" y2="383.6"/>
<line x1="204.3" y1="386.4" x2="204.3" y2="383.6"/>
<line x1="277.65" y1="386.4" x2="277.65" y2="383.6"/>
<line x1="57.6" y1="386.4" x2="57.6" y2="384.7"/>
<line x1="72.27" y1="386.4" x2="72.27" y2="384.7"/>
<line x1="86.94" y1="386.4" x2="86.94" y2="384.7"/>
<line x1="101.61" y1="386.4" x2="101.61" y2="384.7"/>
<line x1="116.28" y1="386.4" x2="116.28" y2="384.7"/>
<line x1="130.95" y1="386.4" x2="130.95" y2="384.7"/>
<line x1="145.62" y1="386.4" x2="145.62" y2="384.7"/>
<line x1="160.29" y1="386.4" x2="160.29" y2="384.7"/>
<line x1="174.96" y1="386.4" x2="174.96" y2="384.7"/>
<line x1="189.63" y1="386.4" x2="189.63" y2="384.7"/>
<line x1="204.3" y1="386.4" x2="204.3" y2="384.7"/>
<line x1="218.97" y1="386.4" x2="218.97" y2="384.7"/>
<line x1="233.64" y1="386.4" x2="233.64" y2="384.7"/>
<line x1="248.31" y1="386.4" x2="248.31" y2="384.7"/>
<line x1="262.98" y1="386.4" x2="262.98" y2="384.7"/>
<line x1="277.65" y1="386.4" x2="277.65" y2="384.7"/>
<line x1="292.32" y1="386.4" x2="292.32" y2="384.7"/>
<line x1="57.6" y1="259.4" x2="60.5" y2="259.4"/>
<line x1="57.6" y1="286.7" x2="60.5" y2="286.7"/>
<line x1="57.6" y1="314" x2="60.5" y2="314"/>
<line x1="57.6" y1="341.3" x2="60.5" y2="341.3"/>
<line x1="57.6" y1="368.6" x2="60.5" y2="368.6"/>
<line x1="57.6" y1="382.87" x2="59.3" y2="382.87"/>
<line x1="57.6" y1="379.46" x2="59.3" y2="379.46"/>
<line x1="57.6" y1="376.82" x2="59.3" y2="376.82"/>
<line x1="57.6" y1="374.66" x2="59.3" y2="374.66"/>
<line x1="57.6" y1="372.83" x2="59.3" y2="372.83"/>
<line x1="57.6" y1="371.25" x2="59.3" y2="371.25"/>
<line x1="57.6" y1="369.85" x2="59.3" y2="369.85"/>
<line x1="57.6" y1="360.38" x2="59.3" y2="360.38"/>
<line x1="57.6" y1="355.57" x2="59.3" y2="355.57"/>
<line x1="57.6" y1="352.16" x2="59.3" y2="352.16"/>
<line x1="57.6" y1="349.52" x2="59.3" y2="349.52"/>
<line x1="57.6" y1="347.36" x2="59.3" y2="347.36"/>
<line x1="57.6" y1="345.53" x2="59.3" y2="345.53"/>
<line x1="57.6" y1="343.95" x2="59.3" y2="343.95"/>
<line x1="57.6" y1="342.55" x2="59.3" y2="342.55"/>
<line x1="57.6" y1="333.08" x2="59.3" y2="333.08"/>
<line x1="57.6" y1="328.27" x2="59.3" y2="328.27"/>
<line x1="57.6" y1="324.86" x2="59.3" y2="324.86"/>
<line x1="57.6" y1="322.22" x2="59.3" y2="322.22"/>
<line x1="57.6" y1="320.06" x2="59.3" y2="320.06"/>
<line x1="57.6" y1="318.23" x2="59.3" y2="318.23"/>
<line x1="57.6" y1="316.65" x2="59.3" y2="316.65"/>
<line x1="57.6" y1="315.25" x2="59.3" y2="315.25"/>
<line x1="57.6" y1="305.78" x2="59.3" y2="305.78"/>
<line x1="57.6" y1="300.97" x2="59.3" y2="300.97"/>
<line x1="57.6" y1="297.56" x2="59.3" y2="297.56"/>
<line x1="57.6" y1="294.92" x2="59.3" y2="294.92"/>
<line x1="57.6" y1="292.76" x2="59.3" y2="292.76"/>
<line x1="57.6" y1="290.93" x2="59.3" y2="290.93"/>
<line x1="57.6" y1="289.35" x2="59.3" y2="289.35"/>
<line x1="57.6" y1="287.95" x2="59.3" y2="287.95"/>
<line x1="57.6" y1="278.48" x2="59.3" y2="278.48"/>
<line x1="57.6" y1="273.67" x2="59.3" y2="273.67"/>
<line x1="57.6" y1="270.26" x2="59.3" y2="270.26"/>
<line x1="57.6" y1="267.62" x2="59.3" y2="267.62"/>
<line x1="57.6" y1="265.46" x2="59.3" y2="265.46"/>
<line x1="57.6" y1="263.63" x2="59.3" y2="263.63"/>
<line x1="57.6" y1="262.05" x2="59.3" y2="262.05"/>
<line x1="57.6" y1="260.65" x2="59.3" y2="260.65"/>
<line x1="57.6" y1="251.18" x2="59.3" y2="251.18"/>
<line x1="57.6" y1="246.37" x2="59.3" y2="246.37"/>
<line x1="57.6" y1="242.96" x2="59.3" y2="242.96"/>
<line x1="57.6" y1="240.32" x2="59.3" y2="240.32"/>
<line x1="57.6" y1="238.16" x2="59.3" y2="238.16"/>
<line x1="57.6" y1="236.33" x2="59.3" y2="236.33"/>
<line x1="57.6" y1="234.75" x2="59.3" y2="234.75"/>
<line x1="57.6" y1="233.35" x2="59.3" y2="233.35"/>
</g>
<text transform="translate(57.27 398.8) scale(0.95 1)" font-size="14.0" letter-spacing="-0.7" text-anchor="middle" fill="#5a5a5a">0</text>
<text transform="translate(130.62 398.8) scale(0.95 1)" font-size="14.0" letter-spacing="-0.7" text-anchor="middle" fill="#5a5a5a">5</text>
<text transform="translate(203.97 398.8) scale(0.95 1)" font-size="14.0" letter-spacing="-0.7" text-anchor="middle" fill="#5a5a5a">10</text>
<text transform="translate(277.32 398.8) scale(0.95 1)" font-size="14.0" letter-spacing="-0.7" text-anchor="middle" fill="#5a5a5a">15</text>
<text transform="translate(53.65 263) scale(0.95 1)" font-size="14.0" letter-spacing="-0.9" text-anchor="end" fill="#5a5a5a">1</text>
<text transform="translate(53.65 290.3) scale(0.95 1)" font-size="14.0" letter-spacing="-0.9" text-anchor="end" fill="#5a5a5a">0.100</text>
<text transform="translate(53.65 317.6) scale(0.95 1)" font-size="14.0" letter-spacing="-0.9" text-anchor="end" fill="#5a5a5a">0.010</text>
<text transform="translate(53.65 344.9) scale(0.95 1)" font-size="14.0" letter-spacing="-0.9" text-anchor="end" fill="#5a5a5a">0.001</text>
<text transform="translate(55 372.8) scale(0.96 1)" font-size="14.0" letter-spacing="-1.0" text-anchor="end" fill="#5a5a5a">10<tspan font-size="10" dy="-4.9">−4</tspan></text>
<g fill="none" stroke="#5E81B5" stroke-width="1.05">
<circle cx="57.9" cy="239.3" r="2.4"/>
<circle cx="59.9" cy="270.9" r="2.4"/>
<circle cx="62.1" cy="281.4" r="2.4"/>
<circle cx="64.4" cy="288.8" r="2.4"/>
<circle cx="67.1" cy="294.5" r="2.4"/>
<circle cx="69.5" cy="299.2" r="2.4"/>
<circle cx="71.8" cy="301.9" r="2.4"/>
<circle cx="74.4" cy="306.1" r="2.4"/>
<circle cx="76.8" cy="310.5" r="2.4"/>
<circle cx="79.1" cy="313.8" r="2.4"/>
<circle cx="81.8" cy="316.2" r="2.4"/>
<circle cx="84.3" cy="319.6" r="2.4"/>
<circle cx="86.5" cy="323" r="2.4"/>
<circle cx="88.7" cy="325.4" r="2.4"/>
<circle cx="90.4" cy="327.4" r="2.4"/>
<circle cx="93.8" cy="327.4" r="2.4"/>
<circle cx="96.1" cy="334.9" r="2.4"/>
<circle cx="98.2" cy="337.5" r="2.4"/>
<circle cx="100.2" cy="339.9" r="2.4"/>
<circle cx="103.5" cy="337.6" r="2.4"/>
<circle cx="106" cy="338.7" r="2.4"/>
<circle cx="107.6" cy="343.9" r="2.4"/>
<circle cx="110.4" cy="344.8" r="2.4"/>
<circle cx="113.1" cy="345.4" r="2.4"/>
<circle cx="115.1" cy="354.9" r="2.4"/>
<circle cx="117.8" cy="357.2" r="2.4"/>
<circle cx="120.2" cy="348.1" r="2.4"/>
<circle cx="122.5" cy="349.8" r="2.4"/>
<circle cx="125.2" cy="354.9" r="2.4"/>
<circle cx="127.6" cy="359.3" r="2.4"/>
<circle cx="130.2" cy="359.3" r="2.4"/>
<circle cx="132.5" cy="367.6" r="2.4"/>
<circle cx="134.7" cy="362.8" r="2.4"/>
<circle cx="137.2" cy="362.8" r="2.4"/>
<circle cx="139.8" cy="375.8" r="2.4"/>
<circle cx="142.3" cy="362.8" r="2.4"/>
<circle cx="147" cy="375.8" r="2.4"/>
<circle cx="149.4" cy="367.6" r="2.4"/>
<circle cx="151.9" cy="362.8" r="2.4"/>
<circle cx="154.1" cy="375.8" r="2.4"/>
<circle cx="156.6" cy="375.8" r="2.4"/>
<circle cx="158.8" cy="367.6" r="2.4"/>
<circle cx="161.1" cy="375.8" r="2.4"/>
<circle cx="163.7" cy="375.8" r="2.4"/>
<circle cx="166.2" cy="367.6" r="2.4"/>
<circle cx="168.7" cy="367.6" r="2.4"/>
<circle cx="173.4" cy="375.8" r="2.4"/>
<circle cx="180.2" cy="375.8" r="2.4"/>
<circle cx="197.9" cy="375.8" r="2.4"/>
<circle cx="214.6" cy="375.8" r="2.4"/>
<circle cx="297.3" cy="375.8" r="2.4"/>
</g>
<path d="M58.2,259.3 L60.2,259.3" stroke="#5E81B5" stroke-width="1.2" fill="none"/>
<path d="M60.2,259.3 L60.38,260.76 L60.58,262.21 L60.79,263.66 L61.02,265.1 L61.27,266.55 L61.54,267.99 L61.82,269.43 L62.09,270.87 L62.34,272.31 L62.58,273.76 L62.84,275.2 L63.13,276.63 L63.45,278.07 L63.79,279.5 L64.17,280.91 L64.59,282.31 L65.07,283.69 L65.61,285.06 L66.18,286.41 L66.77,287.76 L67.37,289.09 L67.99,290.42 L68.64,291.73 L69.32,293.04 L70.01,294.33 L70.73,295.6 L71.49,296.85 L72.28,298.09 L73.09,299.31 L73.89,300.54 L74.67,301.78 L75.44,303.03 L76.21,304.28 L76.97,305.53 L77.74,306.78 L78.51,308.02 L79.29,309.26 L80.07,310.5 L80.85,311.74 L81.62,312.99 L82.39,314.24 L83.15,315.49 L83.91,316.74 L84.66,318 L85.42,319.25 L86.19,320.5 L86.97,321.74 L87.76,322.98 L88.55,324.22 L89.31,325.47 L90.01,326.76 L90.67,328.08 L91.42,329.32 L92.32,330.45 L93.34,331.51 L94.42,332.52 L95.51,333.51 L96.61,334.49 L97.73,335.44 L98.87,336.36 L100.04,337.23 L101.25,338.06 L102.48,338.85 L103.73,339.62 L104.98,340.39 L106.23,341.16 L107.48,341.92 L108.73,342.68 L109.99,343.44 L111.25,344.18 L112.52,344.92 L113.79,345.66 L115.06,346.38 L116.34,347.1 L117.62,347.81 L118.9,348.51 L120.19,349.21 L121.49,349.9 L122.79,350.58 L124.09,351.24 L125.4,351.9 L126.72,352.55 L128.03,353.19 L129.36,353.82 L130.68,354.45 L132.02,355.06 L133.35,355.66 L134.7,356.24 L136.04,356.81 L137.4,357.36 L138.76,357.9 L140.13,358.43 L141.5,358.95 L142.88,359.46 L144.25,359.97 L145.62,360.48 L147,360.99 L148.37,361.51 L149.75,362.02 L151.12,362.52 L152.5,363.03 L153.87,363.53 L155.25,364.03 L156.63,364.52 L158.02,365.01 L159.4,365.49 L160.79,365.97 L162.17,366.43 L163.56,366.89 L164.96,367.34 L166.35,367.79 L167.75,368.23 L169.15,368.67 L170.55,369.1 L171.96,369.52 L173.36,369.94 L174.77,370.35 L176.18,370.75 L177.59,371.14 L179,371.53 L180.42,371.91 L181.83,372.28 L183.25,372.63 L184.68,372.98 L186.11,373.31 L187.53,373.64 L188.96,373.97 L190.39,374.3 L191.82,374.63 L193.25,374.96 L194.67,375.3 L196.1,375.64 L197.52,376 L198.94,376.37 L200.35,376.74 L201.77,377.13 L203.18,377.52 L204.59,377.92 L206,378.32 L207.41,378.73 L208.81,379.13 L210.22,379.54 L211.63,379.95 L213.04,380.36 L214.45,380.76 L215.86,381.16 L217.27,381.56 L218.68,381.95 L220.09,382.35 L221.5,382.75 L222.91,383.14 L224.32,383.54 L225.73,383.93 L227.14,384.33 L228.55,384.72 L229.97,385.12 L231.38,385.51 L232.79,385.91 L234.2,386.3" fill="none" stroke="#5E81B5" stroke-width="1.15" stroke-linejoin="round" stroke-linecap="butt"/>
<text x="80.6" y="296.9" font-size="17" text-anchor="start" fill="#000" textLength="52.5" lengthAdjust="spacingAndGlyphs" >log-convex</text>
<text x="211.8" y="364.8" font-size="20.9" fill="#000">N<tspan font-size="16.3" dy="2.4" stroke="#000" stroke-width="0.3">c</tspan><tspan dy="-2.4">=3.85M</tspan></text>
<line x1="182.8" y1="287.75" x2="225.1" y2="287.75" stroke="#848cc4" stroke-width="1.8"/>
<circle cx="203.7" cy="309.5" r="3.5" fill="none" stroke="#5E81B5" stroke-width="1.25"/>
<text x="243.3" y="293.7" font-size="21" text-anchor="start" fill="#000" >Eq. (6)</text>
<text x="243.3" y="316.9" font-size="21" text-anchor="start" fill="#000" >ED</text>
<g transform="translate(17.8 312.5) rotate(-90)" font-size="21" font-style="italic" fill="#000">
<text x="-14.3" y="-1.2">f</text>
<text transform="translate(-8.46 0) scale(1 1.2)">(ℓ)</text>
</g>
<text transform="translate(171.3 415) scale(0.85 1)" font-size="26.5" font-style="italic" text-anchor="middle" fill="#000">ℓ</text>
<g stroke="#666666" stroke-width="1.0" fill="none">
<line x1="355.7" y1="229.6" x2="355.7" y2="384.5"/>
<line x1="350.8" y1="384.5" x2="601" y2="384.5"/>
</g>
<g stroke="#666666" stroke-width="0.9">
<line x1="355.7" y1="384.5" x2="355.7" y2="381.7"/>
<line x1="410.3" y1="384.5" x2="410.3" y2="381.7"/>
<line x1="464.9" y1="384.5" x2="464.9" y2="381.7"/>
<line x1="519.5" y1="384.5" x2="519.5" y2="381.7"/>
<line x1="574.1" y1="384.5" x2="574.1" y2="381.7"/>
<line x1="355.7" y1="384.5" x2="355.7" y2="382.8"/>
<line x1="366.62" y1="384.5" x2="366.62" y2="382.8"/>
<line x1="377.54" y1="384.5" x2="377.54" y2="382.8"/>
<line x1="388.46" y1="384.5" x2="388.46" y2="382.8"/>
<line x1="399.38" y1="384.5" x2="399.38" y2="382.8"/>
<line x1="410.3" y1="384.5" x2="410.3" y2="382.8"/>
<line x1="421.22" y1="384.5" x2="421.22" y2="382.8"/>
<line x1="432.14" y1="384.5" x2="432.14" y2="382.8"/>
<line x1="443.06" y1="384.5" x2="443.06" y2="382.8"/>
<line x1="453.98" y1="384.5" x2="453.98" y2="382.8"/>
<line x1="464.9" y1="384.5" x2="464.9" y2="382.8"/>
<line x1="475.82" y1="384.5" x2="475.82" y2="382.8"/>
<line x1="486.74" y1="384.5" x2="486.74" y2="382.8"/>
<line x1="497.66" y1="384.5" x2="497.66" y2="382.8"/>
<line x1="508.58" y1="384.5" x2="508.58" y2="382.8"/>
<line x1="519.5" y1="384.5" x2="519.5" y2="382.8"/>
<line x1="530.42" y1="384.5" x2="530.42" y2="382.8"/>
<line x1="541.34" y1="384.5" x2="541.34" y2="382.8"/>
<line x1="552.26" y1="384.5" x2="552.26" y2="382.8"/>
<line x1="563.18" y1="384.5" x2="563.18" y2="382.8"/>
<line x1="574.1" y1="384.5" x2="574.1" y2="382.8"/>
<line x1="585.02" y1="384.5" x2="585.02" y2="382.8"/>
<line x1="595.94" y1="384.5" x2="595.94" y2="382.8"/>
<line x1="355.7" y1="246.9" x2="358.6" y2="246.9"/>
<line x1="355.7" y1="273.7" x2="358.6" y2="273.7"/>
<line x1="355.7" y1="300.5" x2="358.6" y2="300.5"/>
<line x1="355.7" y1="327.3" x2="358.6" y2="327.3"/>
<line x1="355.7" y1="354.1" x2="358.6" y2="354.1"/>
<line x1="355.7" y1="372.83" x2="357.4" y2="372.83"/>
<line x1="355.7" y1="368.11" x2="357.4" y2="368.11"/>
<line x1="355.7" y1="364.76" x2="357.4" y2="364.76"/>
<line x1="355.7" y1="362.17" x2="357.4" y2="362.17"/>
<line x1="355.7" y1="360.05" x2="357.4" y2="360.05"/>
<line x1="355.7" y1="358.25" x2="357.4" y2="358.25"/>
<line x1="355.7" y1="356.7" x2="357.4" y2="356.7"/>
<line x1="355.7" y1="355.33" x2="357.4" y2="355.33"/>
<line x1="355.7" y1="346.03" x2="357.4" y2="346.03"/>
<line x1="355.7" y1="341.31" x2="357.4" y2="341.31"/>
<line x1="355.7" y1="337.96" x2="357.4" y2="337.96"/>
<line x1="355.7" y1="335.37" x2="357.4" y2="335.37"/>
<line x1="355.7" y1="333.25" x2="357.4" y2="333.25"/>
<line x1="355.7" y1="331.45" x2="357.4" y2="331.45"/>
<line x1="355.7" y1="329.9" x2="357.4" y2="329.9"/>
<line x1="355.7" y1="328.53" x2="357.4" y2="328.53"/>
<line x1="355.7" y1="319.23" x2="357.4" y2="319.23"/>
<line x1="355.7" y1="314.51" x2="357.4" y2="314.51"/>
<line x1="355.7" y1="311.16" x2="357.4" y2="311.16"/>
<line x1="355.7" y1="308.57" x2="357.4" y2="308.57"/>
<line x1="355.7" y1="306.45" x2="357.4" y2="306.45"/>
<line x1="355.7" y1="304.65" x2="357.4" y2="304.65"/>
<line x1="355.7" y1="303.1" x2="357.4" y2="303.1"/>
<line x1="355.7" y1="301.73" x2="357.4" y2="301.73"/>
<line x1="355.7" y1="292.43" x2="357.4" y2="292.43"/>
<line x1="355.7" y1="287.71" x2="357.4" y2="287.71"/>
<line x1="355.7" y1="284.36" x2="357.4" y2="284.36"/>
<line x1="355.7" y1="281.77" x2="357.4" y2="281.77"/>
<line x1="355.7" y1="279.65" x2="357.4" y2="279.65"/>
<line x1="355.7" y1="277.85" x2="357.4" y2="277.85"/>
<line x1="355.7" y1="276.3" x2="357.4" y2="276.3"/>
<line x1="355.7" y1="274.93" x2="357.4" y2="274.93"/>
<line x1="355.7" y1="265.63" x2="357.4" y2="265.63"/>
<line x1="355.7" y1="260.91" x2="357.4" y2="260.91"/>
<line x1="355.7" y1="257.56" x2="357.4" y2="257.56"/>
<line x1="355.7" y1="254.97" x2="357.4" y2="254.97"/>
<line x1="355.7" y1="252.85" x2="357.4" y2="252.85"/>
<line x1="355.7" y1="251.05" x2="357.4" y2="251.05"/>
<line x1="355.7" y1="249.5" x2="357.4" y2="249.5"/>
<line x1="355.7" y1="248.13" x2="357.4" y2="248.13"/>
<line x1="355.7" y1="238.83" x2="357.4" y2="238.83"/>
<line x1="355.7" y1="234.11" x2="357.4" y2="234.11"/>
<line x1="355.7" y1="230.76" x2="357.4" y2="230.76"/>
</g>
<text transform="translate(355.37 396.9) scale(0.95 1)" font-size="14.0" letter-spacing="-0.7" text-anchor="middle" fill="#5a5a5a">0</text>
<text transform="translate(409.97 396.9) scale(0.95 1)" font-size="14.0" letter-spacing="-0.7" text-anchor="middle" fill="#5a5a5a">10</text>
<text transform="translate(464.57 396.9) scale(0.95 1)" font-size="14.0" letter-spacing="-0.7" text-anchor="middle" fill="#5a5a5a">20</text>
<text transform="translate(519.17 396.9) scale(0.95 1)" font-size="14.0" letter-spacing="-0.7" text-anchor="middle" fill="#5a5a5a">30</text>
<text transform="translate(573.77 396.9) scale(0.95 1)" font-size="14.0" letter-spacing="-0.7" text-anchor="middle" fill="#5a5a5a">40</text>
<text transform="translate(351.74 250.5) scale(0.95 1)" font-size="14.0" letter-spacing="-0.9" text-anchor="end" fill="#5a5a5a">1</text>
<text transform="translate(351.74 277.3) scale(0.95 1)" font-size="14.0" letter-spacing="-0.9" text-anchor="end" fill="#5a5a5a">0.100</text>
<text transform="translate(351.74 304.1) scale(0.95 1)" font-size="14.0" letter-spacing="-0.9" text-anchor="end" fill="#5a5a5a">0.010</text>
<text transform="translate(351.74 330.9) scale(0.95 1)" font-size="14.0" letter-spacing="-0.9" text-anchor="end" fill="#5a5a5a">0.001</text>
<text transform="translate(353.1 358.3) scale(0.96 1)" font-size="14.0" letter-spacing="-1.0" text-anchor="end" fill="#5a5a5a">10<tspan font-size="10" dy="-4.9">−4</tspan></text>
<g fill="none" stroke="#5E81B5" stroke-width="1.05">
<circle cx="355.8" cy="237.7" r="2.4"/>
<circle cx="358.4" cy="284.1" r="2.4"/>
<circle cx="360.05" cy="295.4" r="2.4"/>
<circle cx="362.1" cy="302.8" r="2.4"/>
<circle cx="364.8" cy="308.5" r="2.4"/>
<circle cx="367.3" cy="314.8" r="2.4"/>
<circle cx="369.8" cy="319" r="2.4"/>
<circle cx="372.1" cy="321.7" r="2.4"/>
<circle cx="374.4" cy="325.1" r="2.4"/>
<circle cx="377.1" cy="326.1" r="2.4"/>
<circle cx="379.1" cy="332.5" r="2.4"/>
<circle cx="382.2" cy="333.5" r="2.4"/>
<circle cx="384.5" cy="337.6" r="2.4"/>
<circle cx="387.3" cy="340.4" r="2.4"/>
<circle cx="389.4" cy="341.8" r="2.4"/>
<circle cx="391.5" cy="338" r="2.4"/>
<circle cx="394.3" cy="345.6" r="2.4"/>
<circle cx="396.5" cy="347.8" r="2.4"/>
<circle cx="398.9" cy="349" r="2.4"/>
<circle cx="401.4" cy="361.4" r="2.4"/>
<circle cx="403.9" cy="358.1" r="2.4"/>
<circle cx="406.1" cy="366.1" r="2.4"/>
<circle cx="408.6" cy="366.1" r="2.4"/>
<circle cx="411.1" cy="366.1" r="2.4"/>
<circle cx="413.2" cy="358.1" r="2.4"/>
<circle cx="415.9" cy="355.5" r="2.4"/>
<circle cx="418.4" cy="361.4" r="2.4"/>
<circle cx="420.4" cy="358.1" r="2.4"/>
<circle cx="423.3" cy="361.4" r="2.4"/>
<circle cx="425.5" cy="366.1" r="2.4"/>
<circle cx="428" cy="366.1" r="2.4"/>
<circle cx="430.5" cy="358.1" r="2.4"/>
<circle cx="435.1" cy="374.2" r="2.4"/>
<circle cx="437.6" cy="374.2" r="2.4"/>
<circle cx="440.1" cy="374.2" r="2.4"/>
<circle cx="444.8" cy="374.2" r="2.4"/>
<circle cx="454.6" cy="374.2" r="2.4"/>
<circle cx="456.9" cy="366.1" r="2.4"/>
<circle cx="461.6" cy="374.2" r="2.4"/>
<circle cx="463.7" cy="374.2" r="2.4"/>
<circle cx="468.7" cy="374.2" r="2.4"/>
<circle cx="470.9" cy="374.2" r="2.4"/>
<circle cx="488.6" cy="374.2" r="2.4"/>
<circle cx="493" cy="366.1" r="2.4"/>
<circle cx="495.9" cy="366.1" r="2.4"/>
<circle cx="595" cy="374.2" r="2.4"/>
</g>
<path d="M359,281.2 L359.85,282.2 L360.42,283.32 L360.84,284.55 L361.2,285.81 L361.54,287.06 L361.85,288.32 L362.15,289.58 L362.49,290.82 L362.88,292.06 L363.28,293.29 L363.7,294.51 L364.12,295.74 L364.52,296.97 L364.9,298.21 L365.27,299.45 L365.64,300.69 L366.04,301.92 L366.47,303.14 L366.94,304.34 L367.43,305.54 L367.93,306.74 L368.44,307.93 L368.94,309.12 L369.44,310.32 L369.93,311.51 L370.43,312.71 L370.94,313.9 L371.45,315.09 L371.95,316.29 L372.47,317.48 L373.05,318.63 L373.72,319.72 L374.5,320.75 L375.33,321.76 L376.14,322.78 L376.95,323.79 L377.76,324.8 L378.53,325.84 L379.22,326.94 L379.88,328.06 L380.59,329.12 L381.39,330.13 L382.25,331.1 L383.14,332.04 L384.04,332.98 L384.94,333.92 L385.82,334.87 L386.7,335.82 L387.58,336.76 L388.49,337.69 L389.41,338.6 L390.33,339.51 L391.26,340.41 L392.2,341.31 L393.15,342.2 L394.12,343.06 L395.09,343.91 L396.09,344.73 L397.1,345.53 L398.13,346.3 L399.18,347.06 L400.24,347.8 L401.33,348.52 L402.42,349.22 L403.52,349.91 L404.63,350.58 L405.74,351.23 L406.86,351.87 L408,352.49 L409.14,353.1 L410.29,353.7 L411.45,354.29 L412.61,354.86 L413.77,355.43 L414.93,356 L416.1,356.56 L417.26,357.12 L418.44,357.67 L419.61,358.22 L420.79,358.76 L421.97,359.29 L423.15,359.82 L424.34,360.34 L425.53,360.85 L426.72,361.36 L427.91,361.86 L429.11,362.35 L430.31,362.83 L431.51,363.3 L432.72,363.77 L433.93,364.23 L435.14,364.69 L436.35,365.14 L437.57,365.59 L438.79,366.03 L440.01,366.46 L441.24,366.88 L442.47,367.29 L443.7,367.69 L444.93,368.08 L446.17,368.46 L447.4,368.83 L448.64,369.18 L449.89,369.53 L451.14,369.86 L452.39,370.19 L453.65,370.51 L454.9,370.82 L456.16,371.13 L457.42,371.43 L458.68,371.73 L459.95,372.02 L461.21,372.31 L462.47,372.6 L463.73,372.89 L464.99,373.18 L466.25,373.47 L467.52,373.75 L468.78,374.03 L470.05,374.3 L471.31,374.58 L472.58,374.85 L473.84,375.11 L475.11,375.38 L476.38,375.65 L477.64,375.91 L478.91,376.17 L480.18,376.44 L481.45,376.7 L482.71,376.96 L483.98,377.21 L485.25,377.47 L486.52,377.72 L487.79,377.98 L489.06,378.23 L490.33,378.48 L491.6,378.73 L492.87,378.98 L494.14,379.23 L495.41,379.48 L496.68,379.73 L497.95,379.99 L499.21,380.24 L500.48,380.5 L501.75,380.76 L503.02,381.01 L504.29,381.27 L505.56,381.53 L506.82,381.79 L508.09,382.05 L509.36,382.31 L510.63,382.57 L511.9,382.83 L513.16,383.09 L514.43,383.35 L515.7,383.61 L516.97,383.87 L518.23,384.14 L519.5,384.4" fill="none" stroke="#5E81B5" stroke-width="1.15" stroke-linejoin="round" stroke-linecap="butt"/>
<text x="374.3" y="287.5" font-size="17" text-anchor="start" fill="#000" textLength="52.3" lengthAdjust="spacingAndGlyphs" >log-convex</text>
<text x="505.1" y="362.9" font-size="20.9" fill="#000">N<tspan font-size="16.3" dy="2.4" stroke="#000" stroke-width="0.3">c</tspan><tspan dy="-2.4">=14.1M</tspan></text>
<line x1="481" y1="284.95" x2="523.2" y2="284.95" stroke="#848cc4" stroke-width="1.8"/>
<circle cx="502" cy="307.1" r="3.5" fill="none" stroke="#5E81B5" stroke-width="1.25"/>
<text x="541.3" y="290.8" font-size="21" text-anchor="start" fill="#000" >Eq. (6)</text>
<text x="541.3" y="314.1" font-size="21" text-anchor="start" fill="#000" >ED</text>
<g transform="translate(319.8 308) rotate(-90)" font-size="21" font-style="italic" fill="#000">
<text x="-14.3" y="-1.2">f</text>
<text transform="translate(-8.46 0) scale(1 1.2)">(ℓ)</text>
</g>
<text transform="translate(473.8 412.4) scale(0.85 1)" font-size="26.5" font-style="italic" text-anchor="middle" fill="#000">ℓ</text>
</svg>
</body></html>
